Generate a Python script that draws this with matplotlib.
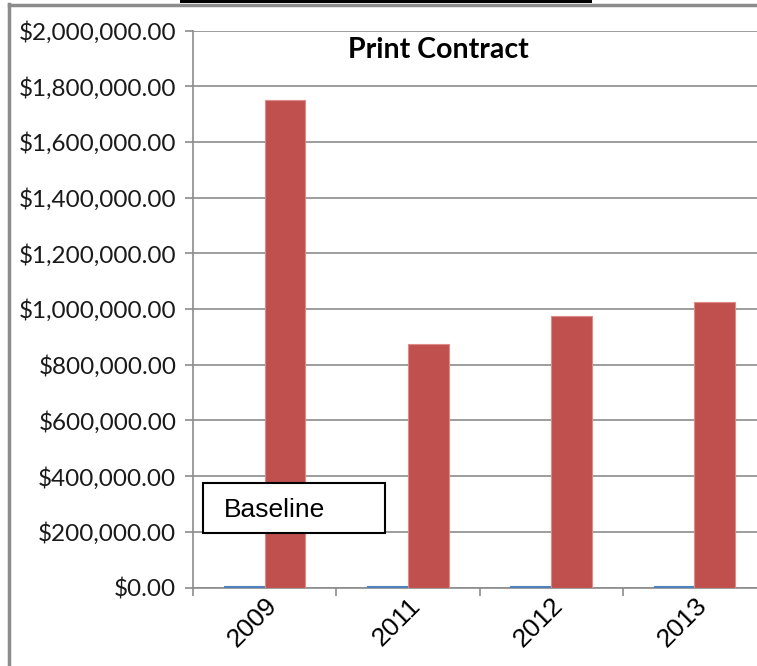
import matplotlib
matplotlib.use("Agg")
import matplotlib.pyplot as plt
import numpy as np
from matplotlib.patches import Rectangle
from matplotlib.lines import Line2D

years = ["2009", "2011", "2012", "2013"]
baseline = [5000, 5000, 5000, 5000]
print_contract = [1750000, 875000, 975000, 1025000]
yticks = np.arange(0, 2000001, 200000)

W, H = 757, 666
fig = plt.figure(figsize=(W / 100, H / 100), dpi=100)

# plot area runs off the right edge like the source screenshot
ax = fig.add_axes([193 / W, 1 - 587.5 / H, 573 / W, (587.5 - 30.5) / H])

x = np.arange(len(years))
bw = 0.285
ax.bar(x - bw / 2, baseline, bw, color="#4F81BD", edgecolor="#4F81BD", linewidth=0.8, zorder=3)
ax.bar(x + bw / 2, print_contract, bw, color="#C0504D", edgecolor="#E08A88", linewidth=0.8, zorder=3)

ax.set_xlim(-0.5, len(years) - 0.5)
ax.set_ylim(0, 2000000)
ax.set_yticks(yticks)
ax.set_yticklabels(["${:,.2f}".format(v) for v in yticks], fontfamily="Lato", fontsize=17.5,
                   color="#1a1a1a")
ax.yaxis.grid(True, color="#8c8c8c", linewidth=1.2)
ax.set_axisbelow(True)

ax.set_xticks(x)
ax.set_xticklabels(years, rotation=45, ha="right", rotation_mode="anchor",
                   fontfamily="Liberation Sans", fontsize=19)
ax.set_xticks(np.arange(len(years) + 1) - 0.5, minor=True)
ax.tick_params(axis="x", which="major", length=0, pad=4)
ax.tick_params(axis="x", which="minor", length=6, color="#8c8c8c", width=1.2)
ax.tick_params(axis="y", length=6, color="#8c8c8c", width=1.2, pad=6)

for s in ["top", "right"]:
    ax.spines[s].set_visible(False)
ax.spines["left"].set_color("#8c8c8c")
ax.spines["bottom"].set_color("#8c8c8c")
ax.spines["left"].set_linewidth(1.2)
ax.spines["bottom"].set_linewidth(1.2)

fig.text(438 / W, 1 - 50 / H, "Print Contract", ha="center", va="center",
         fontfamily="Lato", fontweight="bold", fontsize=20.5)

# text box
fig.patches.append(Rectangle((203 / W, 1 - 533 / H), 182 / W, 50 / H,
                             transform=fig.transFigure, facecolor="white",
                             edgecolor="black", linewidth=1.5, zorder=5))
fig.text(224 / W, 1 - 510 / H, "Baseline", ha="left", va="center",
         fontfamily="Liberation Sans", fontsize=19, zorder=6)

# outer frame bits from the screenshot
fig.lines.append(Line2D([9 / W, 9 / W], [0, 1 - 4 / H], transform=fig.transFigure,
                        color="#8c8c8c", linewidth=2.5))
fig.lines.append(Line2D([9 / W, 1], [1 - 5 / H, 1 - 5 / H], transform=fig.transFigure,
                        color="#8c8c8c", linewidth=2.5))
fig.patches.append(Rectangle((180 / W, 1 - 3 / H), 412 / W, 3 / H,
                             transform=fig.transFigure, facecolor="black", edgecolor="none"))

fig.savefig("out.png", dpi=100)
